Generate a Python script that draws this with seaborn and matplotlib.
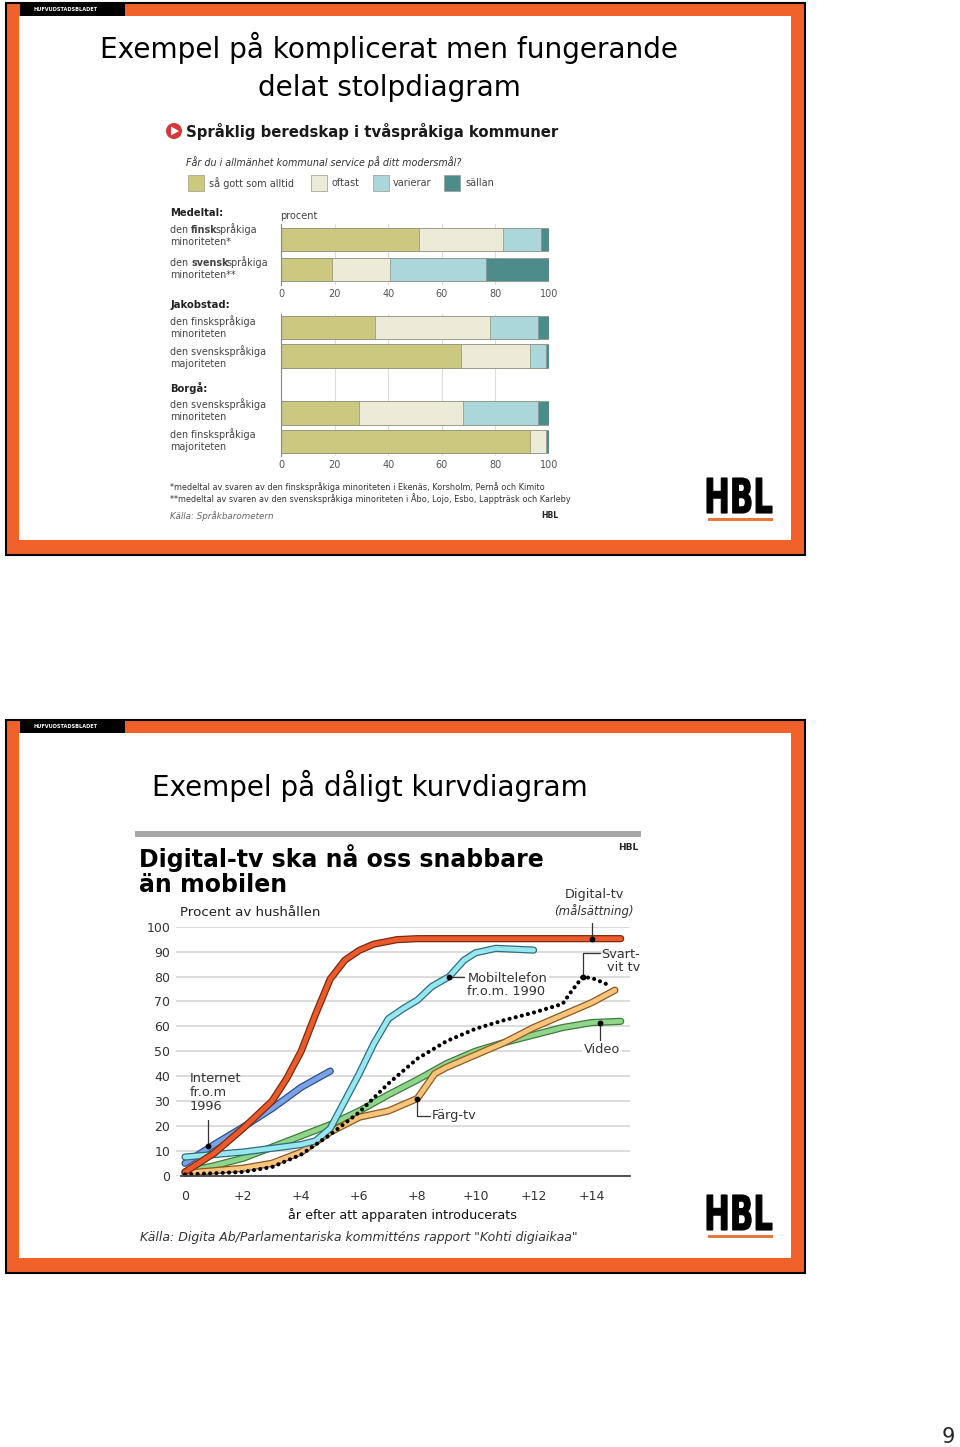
import matplotlib
matplotlib.use("Agg")
import matplotlib.pyplot as plt
import matplotlib.patheffects as pe
from matplotlib.patches import Rectangle, Circle, Polygon, PathPatch
from matplotlib.textpath import TextPath
from matplotlib.font_manager import FontProperties
from matplotlib.transforms import Affine2D
import pandas as pd
import seaborn as sns

sns.set_style("white")
plt.rcParams['font.family'] = ['DejaVu Sans']

# --- data: delat stolpdiagram (procent) ---
rader_topp = ["Medeltal finsk", "Medeltal svensk"]
rader_botten = ["Jakobstad finsk", "Jakobstad svensk", "Borgå svensk", "Borgå finsk"]
ordning_botten = ["Jakobstad finsk", "Jakobstad svensk", " ", "Borgå svensk", "Borgå finsk"]
alltid = [51.5, 19, 35, 67, 29, 93]
oftast = [31.5, 21.5, 43, 26, 39, 6]
varierar = [14, 36, 18, 6, 28, 0]
sallan = [3, 23.5, 4, 1, 4, 1]
serier = ["så gott som alltid", "oftast", "varierar", "sällan"]
bar_farger = ["#cbc87f", "#ecebd7", "#abd7da", "#4e8b8b"]
bar_ticks = [0, 20, 40, 60, 80, 100]

# --- data: kurvdiagram (procent av hushållen) ---
ar_dtv = [0, 1, 2, 3, 3.5, 4, 4.5, 5, 5.5, 6, 6.5, 7.3, 8, 15]
dtv = [1.5, 9, 19, 30, 39, 50, 65, 79, 86.5, 90.5, 93, 94.8, 95.2, 95.2]
ar_mobil = [0, 1, 2, 3, 4, 4.5, 5, 5.5, 6, 6.5, 7, 7.5, 8, 8.5, 9.1, 9.6, 10, 10.7, 12]
mobil = [7.5, 8.5, 9.5, 11, 12.5, 14, 19, 30, 41, 53, 63, 67, 70.5, 76, 80, 86.5, 89.5, 91.3, 90.6]
ar_internet = [0, 1, 2, 3, 4, 5]
internet = [5, 12.5, 19.5, 27, 35.5, 42]
ar_video = [0, 1, 2, 3, 4, 5, 6, 7, 8, 9, 10, 11, 12, 13, 14, 15]
video = [1.5, 4, 7, 11.5, 16, 20.5, 26, 32.5, 38.5, 45, 50, 53.5, 56.5, 59.5, 61.5, 62]
ar_farg = [0, 1, 2, 3, 4, 5, 6, 7, 8, 8.6, 9, 10, 11, 12, 13, 14, 14.8]
farg = [1, 2, 3, 5, 9.5, 17.5, 23.5, 26, 31, 41, 43.5, 48.5, 53.5, 59.5, 64.5, 69.5, 74.5]
ar_svartvit = [0, 1, 2, 3, 4, 5, 6, 7, 8, 9, 10, 11, 12, 13, 13.3, 13.7, 14.1, 14.6]
svartvit = [0.5, 1, 1.5, 3.5, 8.5, 16.5, 25.5, 37, 47, 54, 59, 62.5, 65.5, 69, 74, 80, 79, 76.5]
x_ticks = [0, 2, 4, 6, 8, 10, 12, 14]
x_labels = ["0", "+2", "+4", "+6", "+8", "+10", "+12", "+14"]
y_ticks = [0, 10, 20, 30, 40, 50, 60, 70, 80, 90, 100]

W, H = 960, 1447
ORANGE = "#f0622a"

fig = plt.figure(figsize=(W / 100, H / 100), dpi=100)
fig.patch.set_facecolor("white")

# bakgrundsaxel i pixelkoordinater
bg = fig.add_axes([0, 0, 1, 1])
bg.set_xlim(0, W)
bg.set_ylim(H, 0)
bg.axis("off")


def box(l, t, r, b):
    return [l / W, 1 - b / H, (r - l) / W, (b - t) / H]


def logo(x0, y0, x1, y1, uy):
    tp = TextPath((0, 0), "HBL", size=1, prop=FontProperties(family="DejaVu Sans", weight="bold"))
    e = tp.get_extents()
    tr = Affine2D().translate(-e.x0, -e.y0).scale((x1 - x0) / e.width, -(y1 - y0) / e.height).translate(x0, y1)
    bg.add_patch(PathPatch(tr.transform_path(tp), fc="black", ec="black", lw=0.8))
    bg.add_patch(Rectangle((x0 + 1, uy), x1 - x0, 3, fc="#e9763d", ec="none"))


def slide(top, bottom):
    bg.add_patch(Rectangle((6, top), 799, bottom - top, fc=ORANGE, ec="black", lw=1.5))
    bg.add_patch(Rectangle((19, top + 13), 772, bottom - top - 28, fc="white", ec="none"))
    bg.add_patch(Rectangle((20, top), 105, 13, fc="black", ec="none"))
    bg.text(33, top + 6.5, "HUFVUDSTADSBLADET", color="white", fontsize=3.6, fontweight="bold", va="center")


def blandad(x, y, delar, **kw):
    # text med blandad vikt på en rad
    prev = bg.text(x, y, delar[0][0], fontweight=delar[0][1], va="center", **kw)
    for s, w, dx in delar[1:]:
        prev = bg.annotate(s, xy=(1, 0), xycoords=prev, xytext=(dx, 0), textcoords="offset points",
                           va="bottom", ha="left", fontweight=w, **kw)


slide(3, 555)
slide(720, 1273)
logo(707, 478, 772, 513, 518)
logo(707, 1195, 772, 1230, 1235)

# ---------------- slide 1 ----------------
bg.text(389, 48, "Exempel på komplicerat men fungerande", fontsize=20.2, ha="center", va="center", color="black")
bg.text(389, 88, "delat stolpdiagram", fontsize=20.2, ha="center", va="center", color="black")

bg.add_patch(Circle((174, 131), 8, fc="#d6383a", ec="none"))
bg.add_patch(Polygon([(171, 126.5), (171, 135.5), (179, 131)], fc="white", ec="none"))
bg.text(186, 131, "Språklig beredskap i tvåspråkiga kommuner", fontsize=10.7, fontweight="bold",
        color="#1a1a1a", va="center")
bg.text(186, 162, "Får du i allmänhet kommunal service på ditt modersmål?", fontsize=6.9,
        style="italic", color="#333", va="center")
for lx, tx, namn, c in zip([188, 311, 373, 444], [209, 331, 393, 465], serier, bar_farger):
    bg.add_patch(Rectangle((lx, 175), 16, 16, fc=c, ec="#9a9a8a", lw=0.5))
    bg.text(tx, 183.5, namn, fontsize=7, color="#444", va="center")

bg.text(280, 216, "procent", fontsize=7, color="#444", va="center")
for y, t in [(213, "Medeltal:"), (305, "Jakobstad:"), (388, "Borgå:")]:
    bg.text(170, y, t, fontsize=7.2, fontweight="bold", color="#222", va="center")

stil = dict(fontsize=6.9, color="#444")
blandad(170, 230, [("den ", "normal"), ("finsk", "bold", 0), ("språkiga", "normal", -1.5)], **stil)
bg.text(170, 242, "minoriteten*", va="center", **stil)
blandad(170, 263, [("den ", "normal"), ("svensk", "bold", 0), ("språkiga", "normal", -1.5)], **stil)
bg.text(170, 275, "minoriteten**", va="center", **stil)
for y, t in [(327, "den finskspråkiga\nminoriteten"), (357, "den svenskspråkiga\nmajoriteten"),
             (410, "den svenskspråkiga\nminoriteten"), (440, "den finskspråkiga\nmajoriteten")]:
    bg.text(170, y, t, va="center", linespacing=1.3, **stil)

bg.text(170, 487, "*medeltal av svaren av den finskspråkiga minoriteten i Ekenäs, Korsholm, Pernå och Kimito",
        fontsize=5.85, color="#333", va="center")
bg.text(170, 499, "**medeltal av svaren av den svenskspråkiga minoriteten i Åbo, Lojo, Esbo, Lappträsk och Karleby",
        fontsize=5.85, color="#333", va="center")
bg.text(170, 516, "Källa: Språkbarometern", fontsize=6.3, style="italic", color="#666", va="center")
bg.text(558, 516, "HBL", fontsize=5.5, fontweight="bold", color="#222", va="center", ha="right")

kum = pd.DataFrame({"alltid": alltid, "oftast": oftast, "varierar": varierar, "sallan": sallan}).cumsum(axis=1)
kum["rad"] = rader_topp + rader_botten


def stolpar(ax, rader, ordning, bredd):
    d = kum[kum["rad"].isin(rader)]
    for kol, c in reversed(list(zip(["alltid", "oftast", "varierar", "sallan"], bar_farger))):
        sns.barplot(data=d, x=kol, y="rad", order=ordning, orient="h", color=c, saturation=1,
                    width=bredd, edgecolor="#8e8e7e", linewidth=0.5, ax=ax)
    ax.set_xlim(0, 100)
    ax.set_xticks(bar_ticks)
    ax.set_yticks([])
    ax.set_xlabel("")
    ax.set_ylabel("")
    ax.grid(axis="x", color="#dcdcdc", lw=0.8)
    ax.set_axisbelow(True)
    for s in ["top", "right", "bottom"]:
        ax.spines[s].set_visible(False)
    ax.spines["left"].set_color("#888")
    ax.spines["left"].set_linewidth(0.8)
    ax.tick_params(axis="x", length=0, labelsize=7, labelcolor="#555", pad=3)


ax1 = fig.add_axes(box(281, 224, 549, 285))
stolpar(ax1, rader_topp, rader_topp, 0.74)
ax2 = fig.add_axes(box(281, 313.5, 549, 455.5))
stolpar(ax2, rader_botten, ordning_botten, 0.82)

# ---------------- slide 2 ----------------
bg.text(370, 786, "Exempel på dåligt kurvdiagram", fontsize=20, ha="center", va="center", color="black")
bg.add_patch(Rectangle((135, 831), 506, 6, fc="#a8a8a8", ec="none"))
bg.text(139, 858, "Digital-tv ska nå oss snabbare", fontsize=17, fontweight="bold", va="center",
        color="black")
bg.text(139, 885, "än mobilen", fontsize=17, fontweight="bold", va="center", color="black")
bg.text(638, 847, "HBL", fontsize=6.5, fontweight="bold", ha="right", va="center")
bg.text(180, 913, "Procent av hushållen", fontsize=9.6, color="#222", va="center")
bg.text(140, 1237, "Källa: Digita Ab/Parlamentariska kommitténs rapport \"Kohti digiaikaa\"",
        fontsize=9, style="italic", color="#333", va="center")
bg.text(955, 1437, "9", fontsize=15, ha="right", va="center")

ax3 = fig.add_axes(box(176, 926.7, 630, 1175.7))
ax3.set_xlim(-0.31, 15.32)
ax3.set_ylim(0, 100)

kurvor = [
    (ar_video, video, "#8fd58c", "#3f7c3c"),
    (ar_farg, farg, "#f7c47c", "#8a5a22"),
    (ar_internet, internet, "#7aa3e6", "#2f4f8c"),
    (ar_mobil, mobil, "#98e6f0", "#2c6e7c"),
    (ar_dtv, dtv, "#ea5a2b", "#7a2a10"),
]
for xs, ys, c, kant in kurvor:
    sns.lineplot(x=xs, y=ys, color=c, lw=3.4, ax=ax3, clip_on=False, solid_capstyle="round",
                 path_effects=[pe.Stroke(linewidth=5.2, foreground=kant), pe.Normal()])
sns.lineplot(x=ar_svartvit, y=svartvit, color="black", lw=3, ax=ax3, clip_on=False)
ax3.lines[-1].set_linestyle((0, (0.01, 1.5)))
ax3.lines[-1].set_dash_capstyle("round")

# etiketter med hänvisningslinjer
lc = "#333"
ref = [(14.0, 95.2), (9.1, 80), (0.8, 12), (14.3, 61.5), (8.0, 31), (13.7, 80)]
for x, y in ref:
    ax3.scatter([x], [y], s=10, color="black", zorder=6, clip_on=False)
ax3.plot([14.0, 14.0], [95.2, 101.5], color=lc, lw=0.9, clip_on=False)
ax3.text(14.08, 113, "Digital-tv", fontsize=9.3, color="#333", ha="center", va="center")
ax3.text(14.08, 106.3, "(målsättning)", fontsize=8.5, style="italic", color="#333", ha="center", va="center")
ax3.plot([13.7, 13.7, 14.29], [80, 89.4, 89.4], color=lc, lw=0.9, clip_on=False)
ax3.text(14.33, 86.2, "Svart-\nvit tv", fontsize=9.3, color="#333", ha="left", va="center",
         multialignment="right", linespacing=0.95)
ax3.plot([14.3, 14.3], [61.5, 53.8], color=lc, lw=0.9)
ax3.text(14.35, 50.6, "Video", fontsize=9.3, color="#333", ha="center", va="center",
         bbox=dict(fc="white", ec="none", pad=1.5))
ax3.plot([9.1, 9.67], [80, 80], color=lc, lw=0.9)
ax3.text(9.72, 76.6, "Mobiltelefon\nfr.o.m. 1990", fontsize=9.3, color="#333", ha="left", va="center",
         linespacing=0.95, bbox=dict(fc="white", ec="none", pad=1.5))
ax3.plot([8.0, 8.0, 8.43], [31, 24, 24], color=lc, lw=0.9)
ax3.text(8.5, 24, "Färg-tv", fontsize=9.3, color="#333", ha="left", va="center")
ax3.plot([0.8, 0.8], [12, 22.4], color=lc, lw=0.9)
ax3.text(0.17, 41.5, "Internet\nfr.o.m\n1996", fontsize=9.3, color="#333", ha="left", va="top",
         linespacing=1.1)

ax3.set_yticks(y_ticks)
ax3.set_xticks(x_ticks, labels=x_labels)
ax3.set_xticks(range(0, 16), minor=True)
ax3.grid(axis="y", color="#d6d6d6", lw=1.2)
ax3.set_axisbelow(True)
for s in ["top", "right", "left"]:
    ax3.spines[s].set_visible(False)
ax3.spines["bottom"].set_color("#444")
ax3.spines["bottom"].set_linewidth(1.3)
ax3.spines["bottom"].set_bounds(-0.15, 15.32)
ax3.tick_params(axis="y", length=0, labelsize=9, labelcolor="#333", pad=4)
ax3.tick_params(axis="x", which="both", direction="out", length=4, width=1, color="#444",
                labelsize=9, labelcolor="#333", pad=6)
ax3.set_xlabel("år efter att apparaten introducerats", fontsize=9.2, color="#111", labelpad=4)
ax3.set_ylabel("")

fig.savefig("out.png", dpi=100)
